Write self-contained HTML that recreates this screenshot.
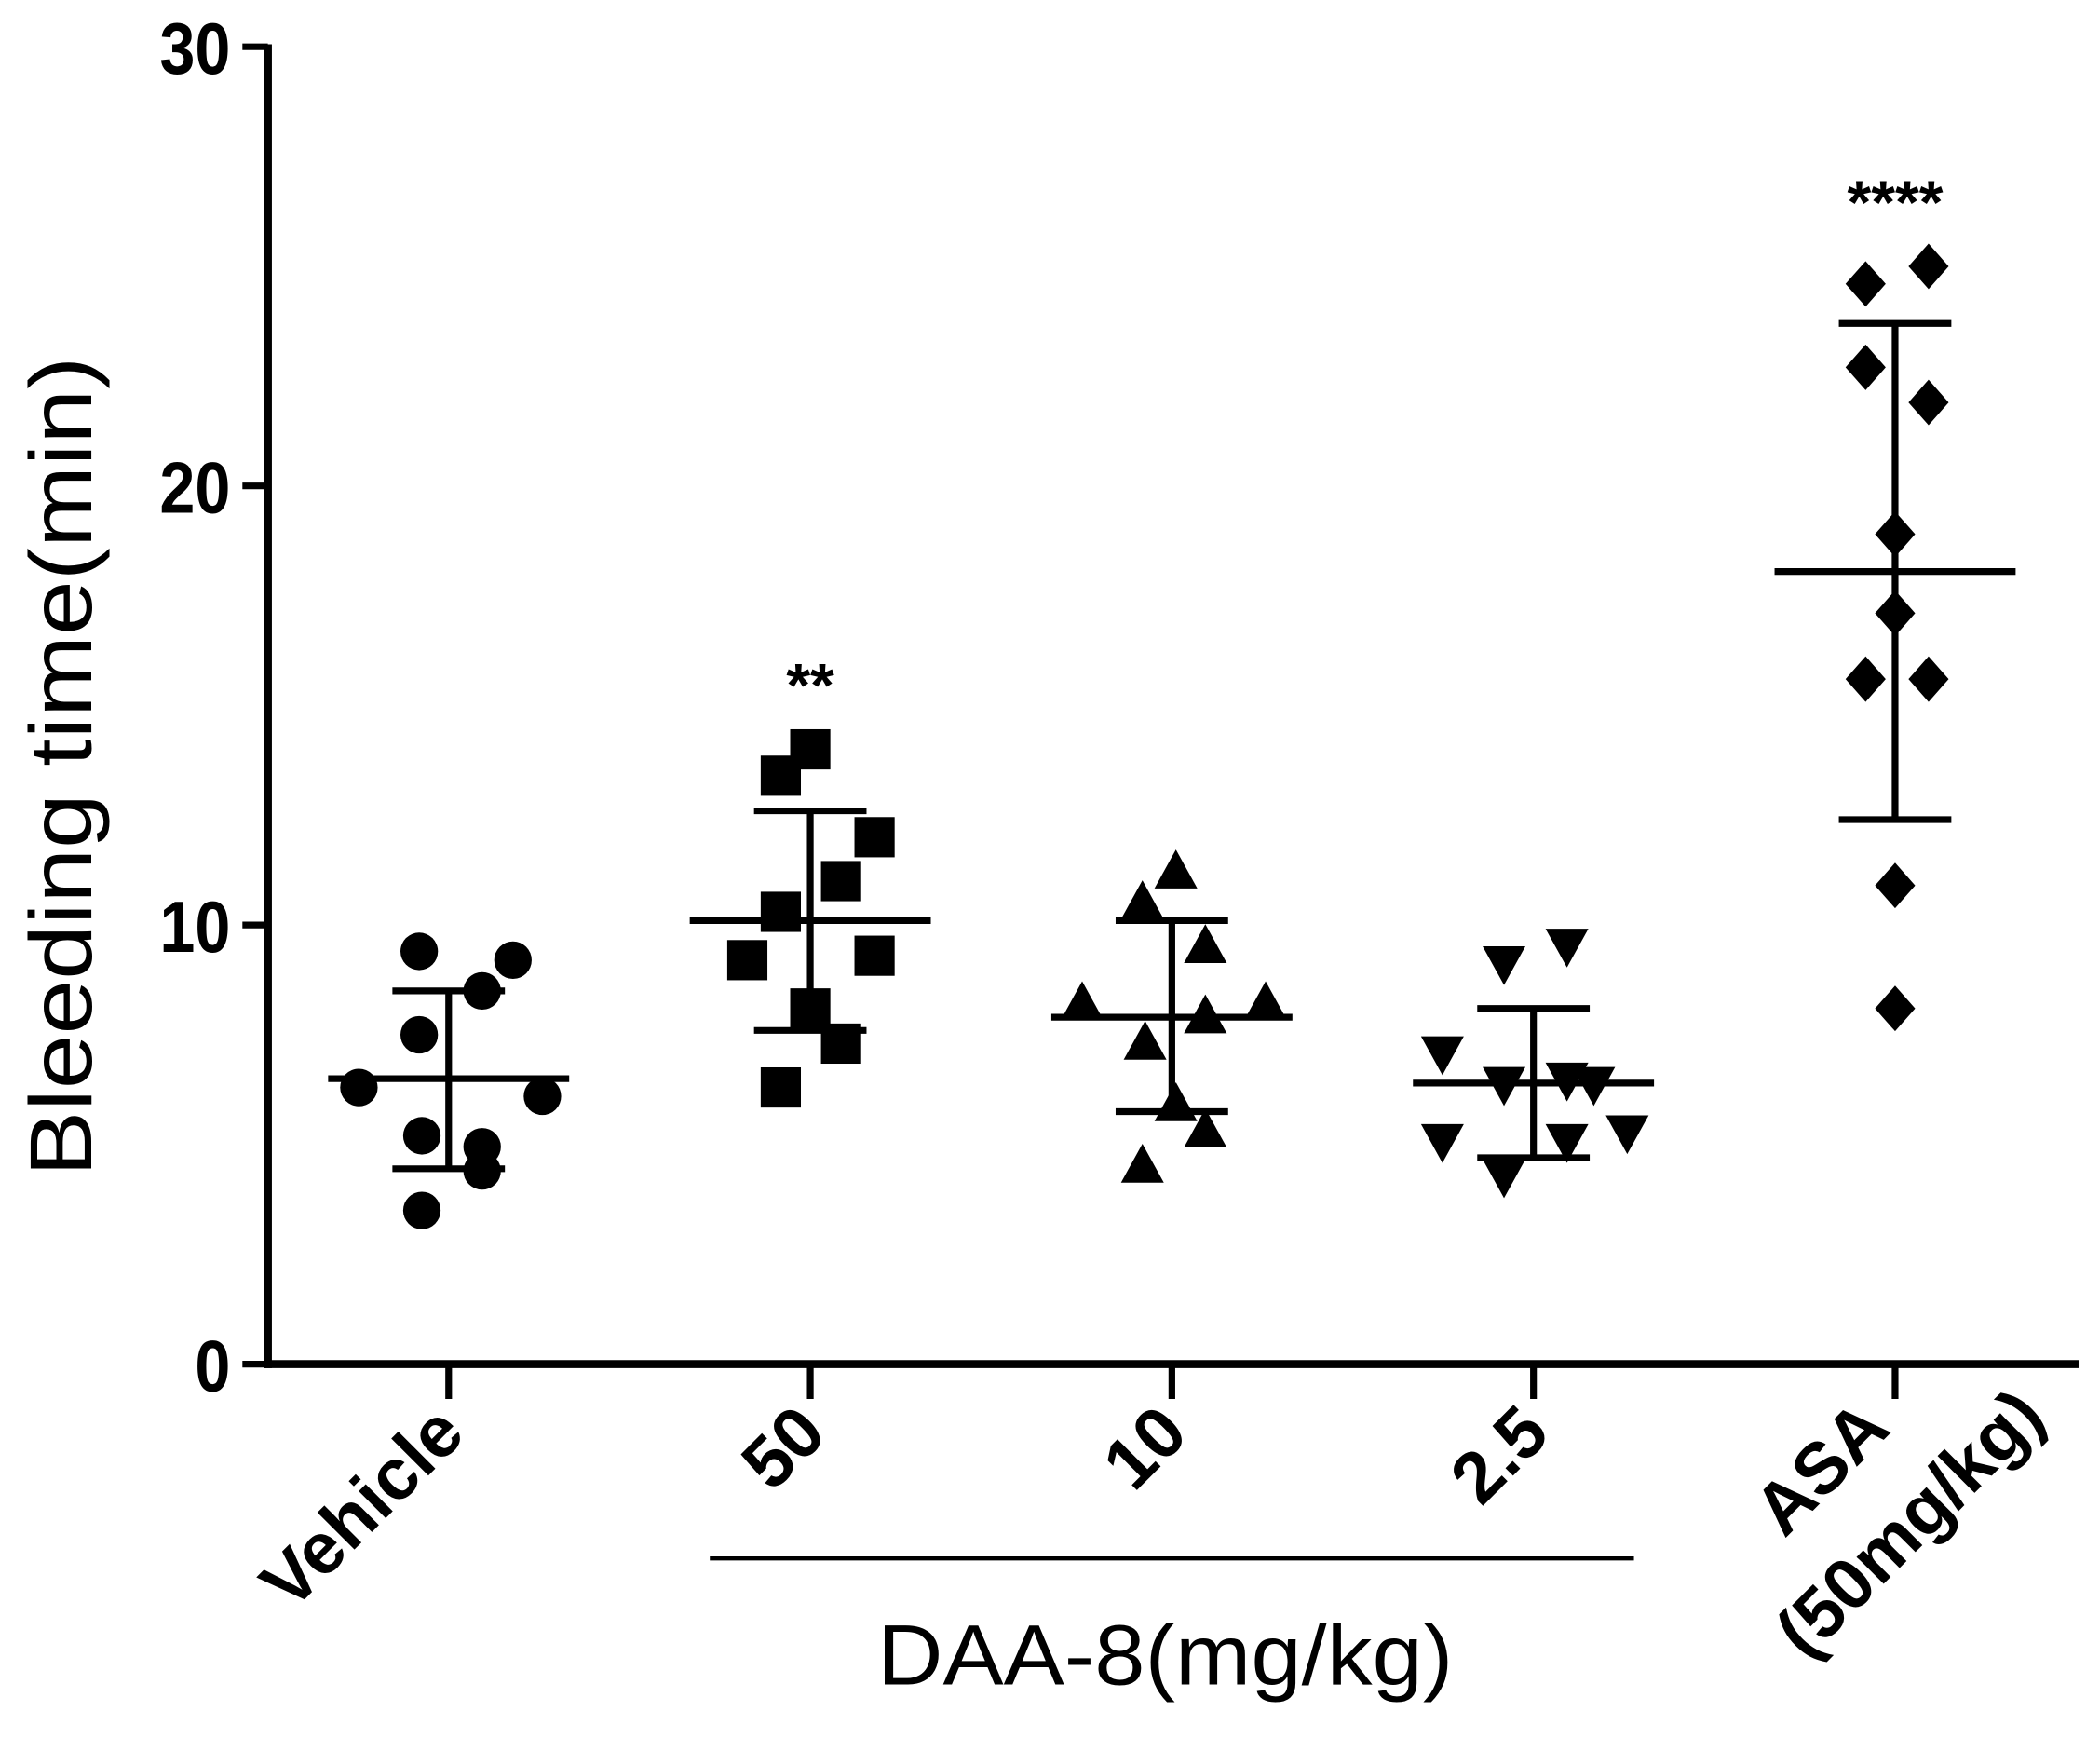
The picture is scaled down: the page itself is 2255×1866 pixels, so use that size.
<!DOCTYPE html>
<html><head><meta charset="utf-8"><style>html,body{margin:0;padding:0;background:#fff}svg{display:block}text{font-family:"Liberation Sans",Arial,sans-serif;fill:#000}</style></head>
<body>
<svg id="chart" width="2255" height="1866" viewBox="0 0 1568 1297" preserveAspectRatio="none" xmlns="http://www.w3.org/2000/svg">
<g id="axes"></g>
<g id="marks"></g>
<text transform="translate(68,572) rotate(-90)" text-anchor="middle" font-size="66" textLength="612" lengthAdjust="spacingAndGlyphs">Bleeding time(min)</text>
<line x1="530" y1="1163" x2="1220" y2="1163" stroke="#000" stroke-width="3"/>
<text x="870" y="1257" text-anchor="middle" font-size="64" textLength="430" lengthAdjust="spacingAndGlyphs">DAA-8(mg/kg)</text>
</svg>
<script>
const categories = ["Vehicle","50","10","2.5","ASA"];
const vehicleVals = [9.4,9.2,8.5,7.5,6.3,6.1,5.2,4.95,4.4,3.5];
const d50Vals = [14.0,13.4,12.0,11.0,10.3,9.2,9.3,8.1,7.3,6.3];
const d10Vals = [11.2,10.5,9.5,8.2,8.2,7.9,7.3,5.9,5.3,4.5];
const d25Vals = [9.55,9.15,7.1,6.4,6.5,6.4,5.1,4.3,5.1,5.3];
const asaVals = [25.0,24.6,22.7,21.9,18.9,17.1,15.6,15.6,10.9,8.1];
const means = [6.5,10.1,7.9,6.4,18.05];
const sdHigh = [8.5,12.6,10.1,8.1,23.7];
const sdLow = [4.45,7.6,5.75,4.7,12.4];
const yTicks = [0,10,20,30];
const stars = ["","**","","","****"];
const jitter = [
 [-22,48,25,-22,-67,70,-20,25,25,-20],
 [0,-22,48,23,-22,-47,48,0,23,-22],
 [3,-22,25,-67,70,25,-20,3,25,-22],
 [25,-22,-68,-22,25,45,-68,-22,25,70],
 [25,-22,-22,25,0,0,-22,25,0,0]];
const series=[vehicleVals,d50Vals,d10Vals,d25Vals,asaVals];
const shapes=["circle","square","tri","itri","diamond"];
const NS="http://www.w3.org/2000/svg";
const y=v=>1018-v*32.77;
const xc=i=>335+i*270;
function mk(tag,at,parent){const e=document.createElementNS(NS,tag);for(const k in at)e.setAttribute(k,at[k]);parent.appendChild(e);return e;}
const ax=document.getElementById('axes'),mg=document.getElementById('marks');
let e=mk('line',{x1:200,y1:33,x2:200,y2:1021,stroke:'#000','stroke-width':6},ax);


e=mk('line',{x1:197,y1:1018,x2:1552,y2:1018,stroke:'#000','stroke-width':6},ax);


yTicks.forEach(t=>{
 let l=mk('line',{x1:181,y1:y(t),x2:200,y2:y(t),stroke:'#000','stroke-width':5},ax);
 
 
 let tx=mk('text',{x:172,y:y(t)+20,'text-anchor':'end','font-size':54,'font-weight':'bold',transform:`translate(${172*0.12},0) scale(0.88,1)`},ax);
 tx.textContent=t;
 
 
});
categories.forEach((c,i)=>{
 let l=mk('line',{x1:xc(i),y1:1018,x2:xc(i),y2:1044,stroke:'#000','stroke-width':5},ax);
 
 
 let tx=mk('text',{transform:`translate(${xc(i)+14},${1072}) rotate(-45)`,'text-anchor':'end','font-size':54,'font-weight':'bold'},ax);
 if(c==="ASA"){tx.setAttribute('transform',`translate(${xc(i)-2},${1068}) rotate(-45)`);
  let a=mk('tspan',{x:0,dy:0},tx);a.textContent="ASA";
  let b=mk('tspan',{x:88,dy:76},tx);b.textContent="(50mg/kg)";}
 else tx.textContent=c;
 
 
});
series.forEach((vals,i)=>{
 const cx=xc(i);
 vals.forEach((v,j)=>{
  const px=cx+jitter[i][j],py=y(v),s=15;let m;
  if(shapes[i]=="circle")m=mk('circle',{cx:px,cy:py,r:14},mg);
  else if(shapes[i]=="square")m=mk('rect',{x:px-s,y:py-s,width:2*s,height:2*s},mg);
  else if(shapes[i]=="tri")m=mk('polygon',{points:`${px},${py-17} ${px-16},${py+12} ${px+16},${py+12}`},mg);
  else if(shapes[i]=="itri")m=mk('polygon',{points:`${px},${py+17} ${px-16},${py-12} ${px+16},${py-12}`},mg);
  else m=mk('polygon',{points:`${px},${py-17} ${px+15},${py} ${px},${py+17} ${px-15},${py}`},mg);
  m.setAttribute('fill','#000');
  
  
 });
 const st={stroke:'#000','stroke-width':5};
 let l=mk('line',{x1:cx-90,y1:y(means[i]),x2:cx+90,y2:y(means[i]),...st},mg);
 
 
 l=mk('line',{x1:cx,y1:y(sdHigh[i]),x2:cx,y2:y(sdLow[i]),...st},mg);
 
 
 [sdHigh[i],sdLow[i]].forEach(v=>{
  let c=mk('line',{x1:cx-42,y1:y(v),x2:cx+42,y2:y(v),...st},mg);
  
  
 });
 if(stars[i]){
  let t=mk('text',{x:cx,y:y(Math.max(...vals))-32,'text-anchor':'middle','font-size':46,'font-weight':'bold'},mg);
  t.textContent=stars[i];
  
  
 }
});
</script>
</body></html>
